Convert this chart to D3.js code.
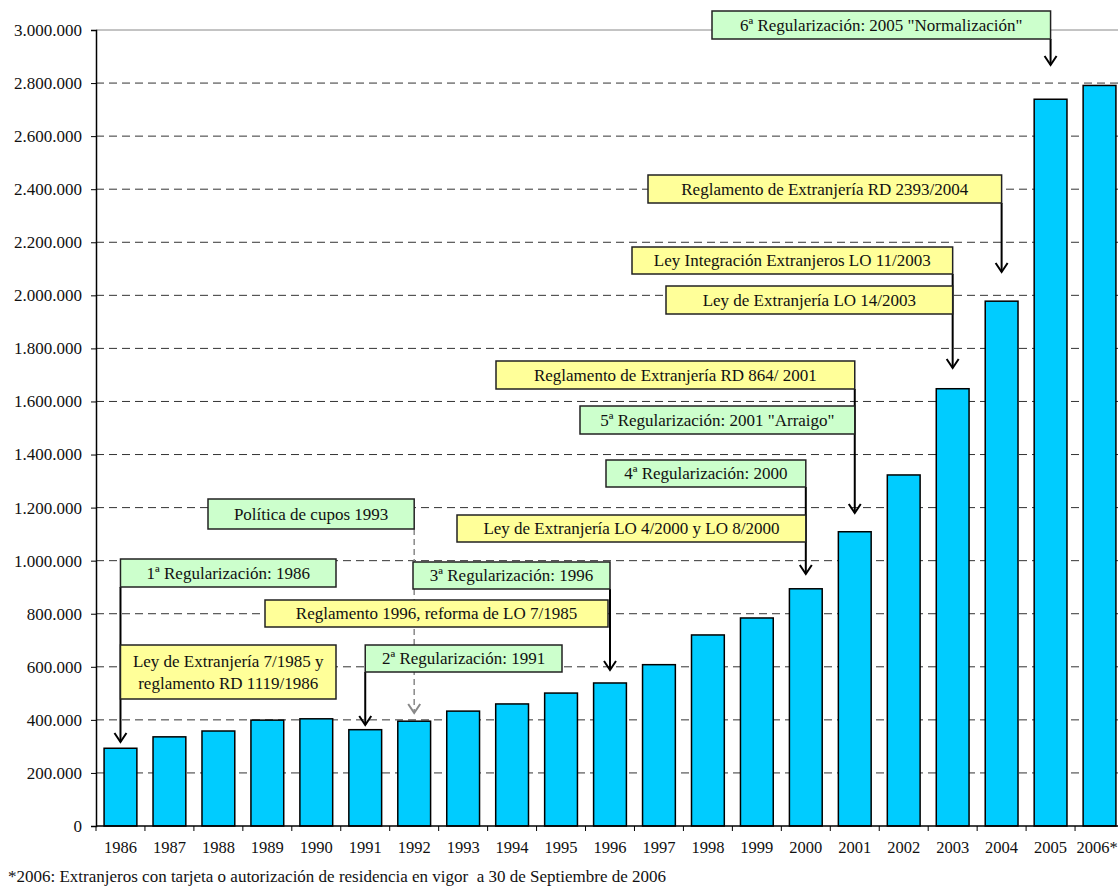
<!DOCTYPE html>
<html>
<head>
<meta charset="utf-8">
<script src="https://cdn.jsdelivr.net/npm/d3@7"></script>
<style>
  body { margin: 0; background: #fff; }
</style>
</head>
<body>
<div id="vis"></div>
<script>
// Data
var years = ['1986','1987','1988','1989','1990','1991','1992','1993','1994','1995','1996',
             '1997','1998','1999','2000','2001','2002','2003','2004','2005','2006*'];
var residents = [293000, 336000, 358000, 399000, 404000, 363000, 395000, 433000, 460000, 501000, 539000,
                 608000, 720000, 784000, 894000, 1109000, 1323000, 1648000, 1978000, 2739000, 2791000];
var yTicks = [0,200000,400000,600000,800000,1000000,1200000,1400000,1600000,1800000,
              2000000,2200000,2400000,2600000,2800000,3000000];
var footnote = '*2006: Extranjeros con tarjeta o autorización de residencia en vigor  a 30 de Septiembre de 2006';

// annotation labels
var noteTexts = [
  ['6ª Regularización: 2005 "Normalización"'],
  ['Reglamento de Extranjería RD 2393/2004'],
  ['Ley Integración Extranjeros LO 11/2003'],
  ['Ley de Extranjería LO 14/2003'],
  ['Reglamento de Extranjería RD 864/ 2001'],
  ['5ª Regularización: 2001 "Arraigo"'],
  ['4ª Regularización: 2000'],
  ['Ley de Extranjería LO 4/2000 y LO 8/2000'],
  ['Política de cupos 1993'],
  ['1ª Regularización: 1986'],
  ['Ley de Extranjería 7/1985 y', 'reglamento RD 1119/1986'],
  ['3ª Regularización: 1996'],
  ['Reglamento 1996, reforma de LO 7/1985'],
  ['2ª Regularización: 1991']
];
var noteKinds = ['reg','law','law','law','law','reg','reg','law','reg','reg','law','reg','law','reg'];
var arrowYears = ['2005','2004','2003','2001','2000','1996','1992','1991','1986'];

var width = 1118, height = 889;
var margin = {top: 30, left: 96, bottom: 63};
var FONT = 'Liberation Serif';
var FS = 17;

var svg = d3.select('#vis').append('svg')
  .attr('width', width).attr('height', height);

var x = d3.scaleBand().domain(years).range([96, 1124]).paddingInner(0.33).paddingOuter(0.165);
var y = d3.scaleLinear().domain([0, 3000000]).range([height - margin.bottom, margin.top]);
function cx(yr){ return x(yr) + x.bandwidth()/2; }

var fmt = function(d){ return d3.format(',')(d).replace(/,/g, '.'); };

// grid lines
svg.append('g').selectAll('line')
  .data(yTicks.filter(function(d){ return d > 0 && d < 3000000; }))
  .enter().append('line')
  .attr('x1', 96).attr('x2', width)
  .attr('y1', function(d){ return y(d); }).attr('y2', function(d){ return y(d); })
  .attr('stroke', '#333').attr('stroke-width', 1).attr('stroke-dasharray', '8,5');

// top border of plot
svg.append('line').attr('x1', 96).attr('x2', width)
  .attr('y1', y(3000000)).attr('y2', y(3000000))
  .attr('stroke', '#888').attr('stroke-width', 1);

// bars
svg.append('g').selectAll('rect')
  .data(residents).enter().append('rect')
  .attr('x', function(d, i){ return x(years[i]); })
  .attr('width', x.bandwidth())
  .attr('y', function(d){ return y(d); })
  .attr('height', function(d){ return y(0) - y(d); })
  .attr('fill', '#00CCFF').attr('stroke', '#000').attr('stroke-width', 1.5);

// y axis
var yAxis = svg.append('g').attr('transform', 'translate(96,0)')
  .call(d3.axisLeft(y).tickValues(yTicks).tickFormat(fmt).tickSize(5).tickPadding(9));
yAxis.select('.domain').attr('stroke', '#000').attr('stroke-width', 1.5);
yAxis.selectAll('text')
  .attr('font-family', FONT).attr('font-size', FS).attr('fill', '#111');

// x axis (ticks at band boundaries)
svg.append('line').attr('x1', 96).attr('x2', width).attr('y1', y(0)).attr('y2', y(0))
  .attr('stroke', '#000').attr('stroke-width', 1.5);
var step = x.step();
svg.append('g').selectAll('line')
  .data(d3.range(years.length + 1)).enter().append('line')
  .attr('x1', function(i){ return 96 + i*step; }).attr('x2', function(i){ return 96 + i*step; })
  .attr('y1', y(0)).attr('y2', y(0) + 5)
  .attr('stroke', '#000').attr('stroke-width', 1);
svg.append('g').selectAll('text')
  .data(years).enter().append('text')
  .attr('x', function(d){ return Math.min(cx(d), width - 21); })
  .attr('y', y(0) + 27)
  .attr('text-anchor', 'middle')
  .attr('font-family', FONT).attr('font-size', 16.5).attr('fill', '#111')
  .text(function(d){ return d; });

// footnote
svg.append('text').attr('x', 8).attr('y', 882)
  .attr('font-family', FONT).attr('font-size', FS).attr('fill', '#111')
  .style('white-space', 'pre').text(footnote);

// annotation boxes layout [x0, x1, y0, y1] (pixels)
var boxLayout = [
  [712, cx('2005'), 11, 39],
  [648, cx('2004'), 175, 203],
  [632, cx('2003'), 247, 274],
  [666, cx('2003'), 286, 314],
  [496, cx('2001'), 361, 389],
  [580, cx('2001'), 406, 434],
  [606, cx('2000'), 460, 487],
  [457, cx('2000'), 515, 542],
  [208, cx('1992'), 499, 529],
  [cx('1986'), 336, 559, 587],
  [cx('1986'), 336, 645, 699],
  [413, cx('1996'), 562, 589],
  [265, cx('1996') - 2, 600, 627],
  [cx('1991'), 562, 645, 672]
];
// arrows: from box edge down to just above the bar
var arrowLayout = [
  [39, 65], [203, 272], [274, 368], [389, 513], [487, 574], [589, 670], [529, 713], [672, 725], [587, 742]
];

var arrows = svg.append('g');
arrowYears.forEach(function(yr, i){
  var ax = cx(yr), a = arrowLayout[i];
  var dashed = yr === '1992';
  var col = dashed ? '#888' : '#000';
  arrows.append('line').attr('x1', ax).attr('x2', ax).attr('y1', a[0]).attr('y2', a[1])
    .attr('stroke', col).attr('stroke-width', dashed ? 1.5 : 2)
    .attr('stroke-dasharray', dashed ? '6,4' : null);
  arrows.append('path')
    .attr('d', 'M' + (ax - 6) + ',' + (a[1] - 9) + 'L' + ax + ',' + a[1] + 'L' + (ax + 6) + ',' + (a[1] - 9))
    .attr('fill', 'none').attr('stroke', col).attr('stroke-width', 2);
});

var notes = svg.append('g').selectAll('g')
  .data(noteTexts).enter().append('g');
notes.append('rect')
  .attr('x', function(d, i){ return boxLayout[i][0]; })
  .attr('y', function(d, i){ return boxLayout[i][2]; })
  .attr('width', function(d, i){ return boxLayout[i][1] - boxLayout[i][0]; })
  .attr('height', function(d, i){ return boxLayout[i][3] - boxLayout[i][2]; })
  .attr('fill', function(d, i){ return noteKinds[i] === 'reg' ? '#CCFFCC' : '#FFFF99'; })
  .attr('stroke', '#222').attr('stroke-width', 1.5);
notes.each(function(lines, i){
  var b = boxLayout[i];
  var mid = (b[0] + b[1]) / 2, cy = (b[2] + b[3]) / 2;
  var lh = 22;
  var top = cy - (lines.length - 1) * lh / 2;
  lines.forEach(function(t, k){
    d3.select(this).append('text')
      .attr('x', mid).attr('y', top + k*lh)
      .attr('dy', '0.35em')
      .attr('text-anchor', 'middle')
      .attr('font-family', FONT).attr('font-size', FS).attr('fill', '#111')
      .text(t);
  }, this);
});
</script>
</body>
</html>
